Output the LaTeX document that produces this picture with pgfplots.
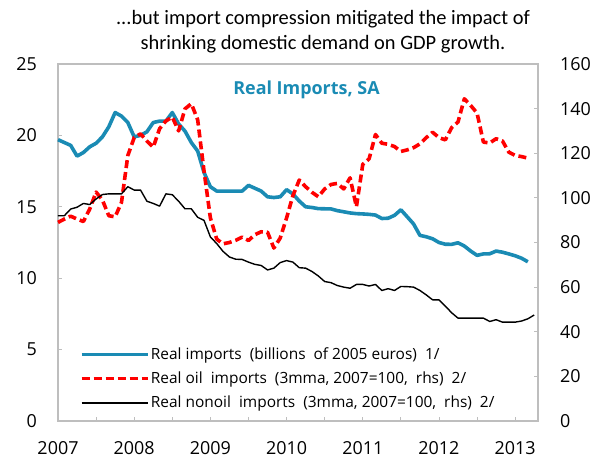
\documentclass[border=0pt]{standalone}
\usepackage{pgfplots}
\pgfplotsset{compat=1.18}
\usepackage{pgfplotstable}
\usepackage{fontspec}
\setmainfont{Open Sans}
\newfontfamily\titlefont{Carlito}
\definecolor{impblue}{RGB}{26,139,180}
\definecolor{framegray}{RGB}{190,190,190}

\pgfplotstableread{
m v
0 19.7
1 19.5
2 19.3
3 18.55
4 18.8
5 19.2
6 19.45
7 19.9
8 20.6
9 21.6
10 21.35
11 20.9
12 19.9
13 20.0
14 20.25
15 20.9
16 21.0
17 21.0
18 21.6
19 20.8
20 20.3
21 19.5
22 18.9
23 17.4
24 16.4
25 16.1
26 16.1
27 16.1
28 16.1
29 16.1
30 16.5
31 16.3
32 16.1
33 15.7
34 15.65
35 15.7
36 16.2
37 15.9
38 15.4
39 15.0
40 14.95
41 14.87
42 14.86
43 14.85
44 14.73
45 14.65
46 14.57
47 14.52
48 14.5
49 14.47
50 14.42
51 14.18
52 14.2
53 14.4
54 14.79
55 14.3
56 13.8
57 13.0
58 12.9
59 12.76
60 12.5
61 12.38
62 12.37
63 12.48
64 12.25
65 11.9
66 11.6
67 11.7
68 11.71
69 11.9
70 11.82
71 11.7
72 11.57
73 11.4
74 11.15
}\realimp

\pgfplotstableread{
m v
0 89
1 90.5
2 91.8
3 90.5
4 89.4
5 95
6 102.6
7 99
8 92
9 91.5
10 98
11 119
12 127
13 128.7
14 125.5
15 122.7
16 131
17 134.5
18 136.2
19 130
20 139.9
21 142.2
22 135
23 112
24 91
25 81.5
26 79.4
27 80
28 81
29 82.4
30 80.9
31 83.5
32 84.8
33 84.6
34 77.5
35 82
36 91
37 101
38 108
39 105
40 102.5
41 100.5
42 104
43 106
44 106.5
45 104
46 109
47 96
48 115
49 117.5
50 128.4
51 124.5
52 124
53 123
54 120.8
55 121.5
56 122.5
57 124.2
58 127
59 129.4
60 127
61 126
62 131.5
63 134
64 144.4
65 141.4
66 138
67 125
68 124.6
69 126.5
70 125.5
71 120.5
72 119
73 118.5
74 117.8
}\oilimp

\pgfplotstableread{
m v
0 92
1 92
2 95
3 95.8
4 97.5
5 97
6 99.5
7 101.5
8 101.8
9 101.8
10 101.8
11 105
12 103.5
13 103.5
14 98.5
15 97.5
16 96.3
17 101.8
18 101.4
19 98.5
20 95.1
21 95.1
22 91.3
23 89.9
24 82.5
25 79.5
26 76
27 73.5
28 72.5
29 72.4
30 71.2
31 70.2
32 69.7
33 67.7
34 68.5
35 71
36 71.9
37 71.2
38 68.7
39 68.5
40 67
41 65
42 62.5
43 62
44 60.7
45 60
46 59.5
47 61.2
48 61.2
49 60.5
50 61.2
51 58.5
52 59.3
53 58.5
54 60.3
55 60.2
56 60
57 58.5
58 56.5
59 54.3
60 54.3
61 51.5
62 48.5
63 46.1
64 46.1
65 46.1
66 46.1
67 46.1
68 44.6
69 45.4
70 44.3
71 44.3
72 44.3
73 44.8
74 45.8
75 47.5
}\nonoilimp

\begin{document}
\begin{tikzpicture}[x=1bp,y=1bp]
\useasboundingbox (-58,-42) rectangle (545,421);
\pgfplotsset{
  common/.style={
    scale only axis, width=480bp, height=357bp,
    xmin=0, xmax=75.6,
    /pgf/number format/assume math mode=true,
    tick align=inside, major tick length=4bp,
    tick style={framegray, line width=0.9bp},
    axis line style={framegray, line width=1.1bp},
    ticklabel style={font=\fontsize{18}{21}\selectfont, inner sep=0pt},
    clip=false,
  }
}
\begin{axis}[common,
  ymin=0, ymax=25, ytick={0,5,...,25},
  xtick={0,6,...,72},
  xticklabels={2007,,2008,,2009,,2010,,2011,,2012,,2013},
  xtick pos=bottom, ytick pos=left,
  xticklabel style={anchor=north, yshift=-20bp},
  yticklabel style={anchor=east, xshift=-21bp},
]
\addplot[impblue, line width=3.6bp, line join=round] table[x=m,y=v] {\realimp};
\end{axis}
\begin{axis}[common,
  ymin=0, ymax=160, ytick={0,20,...,160},
  axis x line=none, axis y line*=right,
  yticklabel style={anchor=west, xshift=22bp},
  legend cell align=left,
  legend style={draw=none, fill=none, at={(0.045,0.21)}, anchor=north west,
    inner sep=0pt, row sep=8bp,
    font=\fontsize{15.5}{18}\selectfont,
    nodes={inner sep=1.5bp}},
  legend image code/.code={\draw[#1] (0bp,0bp) -- (66bp,0bp);},
]
\addlegendimage{impblue, line width=3.6bp}
\addlegendentry{Real imports\ \ (billions\ \ of\ 2005 euros)\ \ 1/}
\addplot[red, line width=3.6bp, dash pattern=on 8bp off 4bp, line join=round] table[x=m,y=v] {\oilimp};
\addlegendentry{Real oil\ \ imports\ \ (3mma, 2007=100,\ \ rhs)\ \ 2/}
\addplot[black, line width=1.4bp, line join=round] table[x=m,y=v] {\nonoilimp};
\addlegendentry{Real nonoil\ \ imports\ \ (3mma, 2007=100,\ \ rhs)\ \ 2/}
\end{axis}
\node[anchor=base, font=\titlefont\fontsize{20.5}{24}\selectfont] at (265,396) {...but import compression mitigated the impact of};
\node[anchor=base, font=\titlefont\fontsize{20.5}{24}\selectfont] at (265,371) {shrinking domestic demand on GDP growth.};
\node[anchor=base, font=\fontsize{18}{21}\selectfont\bfseries, text=impblue] at (248.5,326) {Real Imports, SA};
\end{tikzpicture}
\end{document}
